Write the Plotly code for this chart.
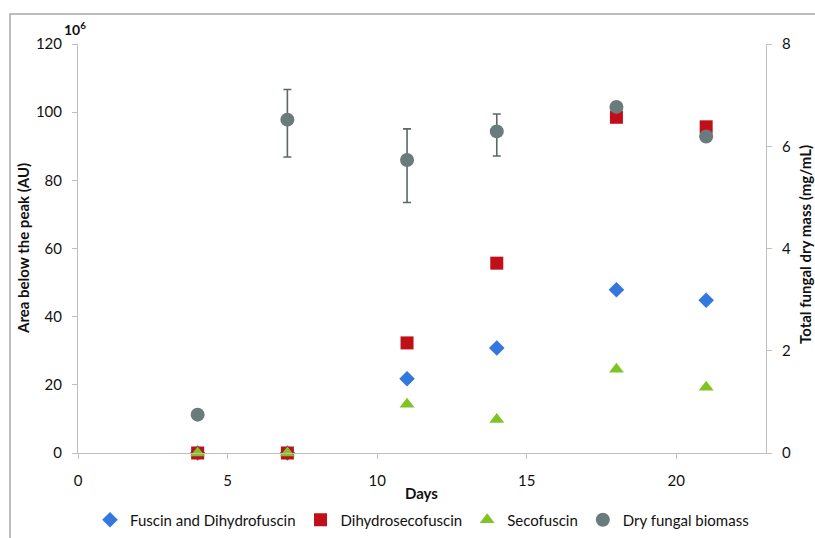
import plotly.graph_objects as go

days = [4, 7, 11, 14, 18, 21]
fuscin = [0, 0, 21.8, 30.8, 47.9, 44.8]
dihydrosecofuscin = [0, 0, 32.3, 55.7, 98.5, 95.7]
secofuscin = [0, 0, 14.3, 9.8, 24.6, 19.3]
biomass = [0.75, 6.52, 5.73, 6.29, 6.77, 6.19]
biomass_err_plus = [0, 0.59, 0.61, 0.34, 0, 0]
biomass_err_minus = [0, 0.73, 0.83, 0.48, 0, 0]

font = "Lato, 'Noto Sans', sans-serif"
axis_grey = "#BFBFBF"
W, H = 815, 538
L, R, T, B = 78, 49, 44, 85
PW, PH = W - L - R, H - T - B


def px(x):
    return (x - L) / PW


def py(y):
    return (H - B - y) / PH


fig = go.Figure()
fig.add_trace(go.Scatter(x=days, y=fuscin, mode="markers", name="Fuscin and Dihydrofuscin",
                         marker=dict(symbol="diamond", size=12, color="#3278DE"), cliponaxis=False))
fig.add_trace(go.Scatter(x=days, y=dihydrosecofuscin, mode="markers", name="Dihydrosecofuscin",
                         marker=dict(symbol="square", size=13, color="#C00F18"), cliponaxis=False))
fig.add_trace(go.Scatter(x=days, y=secofuscin, mode="markers", name="Secofuscin",
                         marker=dict(symbol="triangle-up", size=13, color="#80C424"), cliponaxis=False))
fig.add_trace(go.Scatter(x=days, y=biomass, mode="markers", name="Dry fungal biomass", yaxis="y2",
                         marker=dict(symbol="circle", size=14, color="#6A7B7C"),
                         error_y=dict(type="data", symmetric=False, array=biomass_err_plus,
                                      arrayminus=biomass_err_minus, color="#5A6868",
                                      thickness=1.6, width=4),
                         cliponaxis=False))

axis_common = dict(showgrid=False, zeroline=False, showline=True, linecolor=axis_grey, linewidth=1,
                   ticks="outside", ticklen=5, tickcolor=axis_grey, automargin=False,
                   tickfont=dict(size=15, color="#111111"))

fig.update_layout(
    width=W, height=H,
    margin=dict(l=L, r=R, t=T, b=B, autoexpand=False),
    paper_bgcolor="white", plot_bgcolor="white",
    font=dict(family=font, size=15, color="#111111"),
    showlegend=True,
    legend=dict(orientation="h", x=0.5, xanchor="center", y=py(520), yanchor="middle",
                font=dict(size=15), itemwidth=30, tracegroupgap=0),
    xaxis=dict(range=[0, 23], dtick=5, tick0=0, ticklabelstandoff=9, **axis_common),
    yaxis=dict(range=[0, 120], dtick=20, ticklabelstandoff=7, **axis_common),
    yaxis2=dict(range=[0, 8], dtick=2, overlaying="y", side="right", ticklabelstandoff=7,
                **axis_common),
)

title_font = dict(size=15, family=font, color="#111111")
fig.add_annotation(text="<b>Days</b>", xref="paper", yref="paper", x=px(421), y=py(493),
                   xanchor="center", yanchor="middle", showarrow=False, font=title_font)
fig.add_annotation(text="<b>Area below the peak (AU)</b>", xref="paper", yref="paper",
                   x=px(23), y=py(249), xanchor="center", yanchor="middle", textangle=-90,
                   showarrow=False, font=title_font)
fig.add_annotation(text="<b>Total fungal dry mass (mg/mL)</b>", xref="paper", yref="paper",
                   x=px(805), y=py(245), xanchor="center", yanchor="middle", textangle=-90,
                   showarrow=False, font=title_font)
fig.add_annotation(text="<b>10<sup>6</sup></b>", xref="paper", yref="paper", x=px(75), y=py(28),
                   xanchor="center", yanchor="middle", showarrow=False,
                   font=dict(size=14, family=font, color="#111111"))

fig.add_shape(type="rect", xref="paper", yref="paper",
              x0=px(10), x1=px(830), y0=py(560), y1=py(14),
              line=dict(color="#A8A8A8", width=1.5), fillcolor="rgba(0,0,0,0)", layer="below")

fig.write_html("out.html", config={"displayModeBar": False},
               post_script="document.body.style.margin='0';document.body.style.overflow='hidden';")
